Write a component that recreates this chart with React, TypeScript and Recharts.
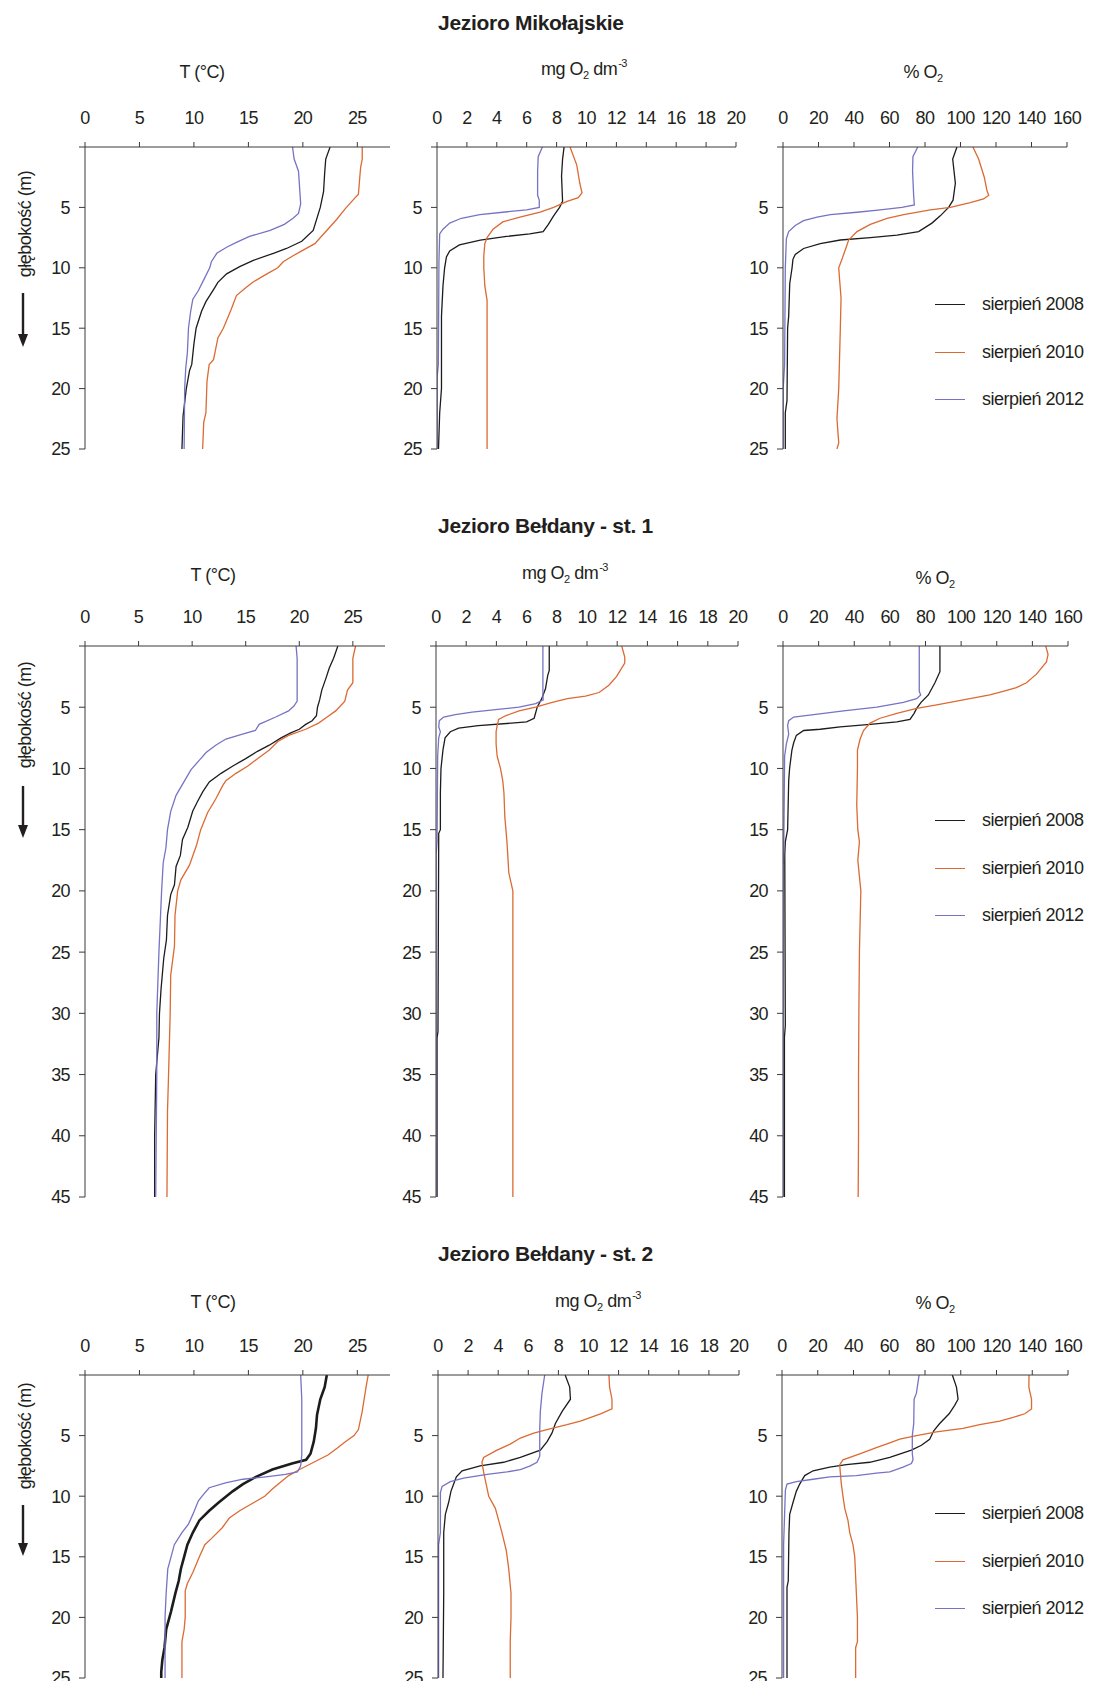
import React from "react";
import { LineChart, Line, XAxis, YAxis, Legend } from "recharts";

const FONT = "'Liberation Sans', Arial, Helvetica, sans-serif";
const INK = "#231f20";
const AXIS = "#3a3a3a";

const YEARS = ["sierpień 2008", "sierpień 2010", "sierpień 2012"];
const COLORS = ["#1c1c1c", "#dc6a33", "#7773c4"];

const T_TICKS = [0, 5, 10, 15, 20, 25];
const MG_TICKS = [0, 2, 4, 6, 8, 10, 12, 14, 16, 18, 20];
const PCT_TICKS = [0, 20, 40, 60, 80, 100, 120, 140, 160];
const DEPTH_25 = [0, 5, 10, 15, 20, 25];
const DEPTH_45 = [0, 5, 10, 15, 20, 25, 30, 35, 40, 45];

// [depth m, value]
// Jezioro Mikołajskie
const MIK_T_2008 = [[0,22.5],[1,22.1],[2.2,22.0],[3.7,21.9],[5,21.6],[6.9,20.95],[7.8,19.9],[8.4,18.5],[8.8,17.3],[9.4,15.4],[9.9,14.2],[10.5,13.0],[11.2,12.2],[11.8,11.8],[12.8,11.1],[13.6,10.7],[15,10.2],[16.3,10.0],[18,9.8],[18.5,9.6],[20,9.3],[22.3,9.0],[25,8.9]];
const MIK_T_2010 = [[0,25.45],[1,25.45],[1.7,25.3],[3.9,25.1],[4.4,24.6],[5.1,23.9],[6,23.1],[7.2,21.9],[8,21.1],[8.6,19.9],[9,19.1],[9.5,18.2],[10,17.7],[10.5,16.7],[11.2,15.4],[11.7,14.7],[12.3,13.9],[13.5,13.4],[15,12.7],[15.8,12.2],[17.6,11.8],[18,11.4],[19.4,11.2],[22,11.1],[22.8,10.9],[25,10.8]];
const MIK_T_2012 = [[0,19.05],[1,19.2],[2,19.6],[4.7,19.8],[5.5,19.6],[5.9,19.1],[6.4,18.3],[6.9,17.0],[7.4,15.1],[7.9,13.9],[8.3,13.0],[8.8,12.1],[9.5,11.6],[10,11.45],[11,10.9],[11.9,10.4],[12.6,9.9],[13.6,9.7],[15,9.5],[17,9.4],[18.3,9.25],[20,9.15],[25,9.1]];
const MIK_MG_2008 = [[0,8.5],[1,8.4],[2.4,8.33],[4.5,8.4],[5,8.2],[5.7,7.8],[6.4,7.45],[7,7.1],[7.2,6.2],[7.4,4.65],[7.7,2.9],[8.1,1.5],[8.6,0.85],[9.1,0.63],[10,0.51],[11.5,0.4],[14,0.3],[20,0.3],[22,0.18],[25,0.1]];
const MIK_MG_2010 = [[0,8.9],[1.5,9.35],[3,9.55],[3.8,9.7],[4.2,9.45],[4.5,8.7],[5,7.8],[5.4,6.9],[5.8,5.55],[6.2,4.4],[6.8,3.75],[7.5,3.35],[8,3.2],[9,3.13],[10,3.13],[11.5,3.2],[12.7,3.35],[14,3.35],[25,3.35]];
const MIK_MG_2012 = [[0,7.05],[0.8,6.77],[2,6.73],[4,6.73],[4.4,6.84],[5,6.84],[5.2,6.0],[5.4,4.4],[5.6,2.86],[5.9,1.63],[6.3,0.85],[6.8,0.4],[7.2,0.18],[9.5,0.13],[18,0.09],[19,0.01],[25,0.01]];
const MIK_PCT_2008 = [[0,98],[1,95.6],[3,97.1],[4.4,95.8],[5,93.3],[5.7,88.6],[6.3,83.9],[7,76.4],[7.3,64.2],[7.5,49.2],[7.7,32.3],[8,21],[8.4,11.6],[8.9,6.9],[9.3,5.6],[10,5.1],[11.3,3.8],[14,3.2],[15,2.6],[21,2.25],[22,1.3],[25,1.3]];
const MIK_PCT_2010 = [[0,107],[1,110.2],[2.5,113.4],[3.6,114.9],[4,115.9],[4.3,113],[4.6,105.5],[5,94.3],[5.2,83],[5.6,68],[5.9,58.6],[6.4,49.2],[7,41.7],[7.7,37],[8.5,35.1],[9.3,33.2],[10,31.4],[11,31.9],[12.5,32.7],[15,32.3],[20,31.4],[22.5,30.4],[24.5,31.4],[25,30.4]];
const MIK_PCT_2012 = [[0,75.9],[0.8,73.2],[2,73],[4,73.6],[4.8,74],[5,67],[5.2,54.8],[5.4,41.7],[5.6,26.7],[5.8,19.2],[6.1,11.6],[6.5,6.9],[7,3.2],[7.6,1.9],[10,1.3],[18,0.9],[20,0.1],[25,0.1]];

// Jezioro Bełdany - st. 1
const B1_T_2008 = [[0,23.6],[1,23.2],[1.8,22.8],[2.6,22.5],[3.6,22.1],[4.4,21.9],[5,21.7],[5.7,21.6],[6.1,21.2],[6.4,20.6],[6.8,20.0],[7.1,19.2],[7.5,18.3],[8.1,17.2],[8.6,16.1],[9.2,15.0],[9.8,13.8],[10.4,12.7],[11.1,11.6],[11.9,11.0],[12.7,10.5],[13.5,10.05],[14.8,9.6],[15.8,9.1],[17.1,8.9],[18,8.5],[19.5,8.35],[20.3,8.0],[22,7.7],[24,7.6],[25.5,7.35],[28,7.1],[30,6.95],[32,6.9],[35,6.6],[40,6.5],[45,6.5]];
const B1_T_2010 = [[0,25.25],[1,25.0],[3,25.0],[3.6,24.5],[4.5,24.25],[5.3,23.4],[5.8,22.6],[6.3,21.8],[6.8,20.6],[7.3,19.0],[7.8,18.0],[8.5,17.2],[9.2,16.1],[9.8,15.2],[10.4,14.1],[11,13.15],[11.4,12.85],[12.5,12.2],[13.6,11.45],[15,10.8],[16.3,10.4],[17.9,9.75],[19.1,8.95],[20,8.65],[22,8.4],[24.5,8.35],[26.9,8.0],[30,7.95],[35,7.8],[38,7.7],[45,7.65]];
const B1_T_2012 = [[0,19.7],[1,19.8],[4.5,19.8],[4.9,19.5],[5.3,19.0],[5.8,17.8],[6.4,16.25],[6.9,15.9],[7.2,14.7],[7.6,13.15],[8.1,12.2],[8.7,11.3],[9.3,10.7],[10.1,9.9],[11,9.3],[12.2,8.5],[13.5,8.0],[15,7.7],[16.5,7.55],[17.7,7.3],[20,7.15],[25,6.9],[30,6.7],[35,6.7],[45,6.6]];
const B1_MG_2008 = [[0,7.5],[2,7.5],[2.4,7.4],[3.5,7.25],[4.3,7.0],[5,6.7],[5.9,6.5],[6.2,6.0],[6.3,5.0],[6.5,2.8],[6.7,1.5],[7,0.95],[7.5,0.6],[8.5,0.46],[10,0.33],[12,0.29],[15,0.29],[15.3,0.18],[31.5,0.13],[32,0.07],[45,0.07]];
const B1_MG_2010 = [[0,12.3],[0.9,12.5],[1.4,12.5],[2.5,11.95],[3.2,11.45],[3.8,10.8],[4.1,9.9],[4.3,8.7],[4.6,7.7],[5,6.6],[5.3,5.5],[5.7,4.6],[6,4.15],[6.5,4.05],[7,3.98],[8,3.98],[9,4.05],[10,4.27],[11,4.42],[12,4.5],[14,4.56],[16,4.7],[18.5,4.82],[19.5,5.0],[20,5.09],[45,5.09]];
const B1_MG_2012 = [[0,7.08],[4.1,7.08],[4.4,7.1],[4.7,6.6],[5,5.5],[5.2,3.94],[5.4,2.39],[5.6,1.28],[5.8,0.51],[6.1,0.22],[6.6,0.18],[7,0.29],[7.5,0.18],[9,0.11],[16,0.07],[17,0.01],[45,0.01]];
const B1_PCT_2008 = [[0,88.1],[2.1,88.1],[3,85.3],[4,81.6],[4.6,77.5],[5.1,75],[5.5,73.6],[6,71.3],[6.2,63.9],[6.4,48.9],[6.6,32.1],[6.8,20.9],[6.9,11.6],[7.3,7.5],[7.9,6.0],[8.5,5.0],[10,3.7],[11,3.2],[15,2.6],[16,1.3],[17,1.0],[31,1.3],[32,0.8],[45,0.8]];
const B1_PCT_2010 = [[0,147.5],[0.7,148.8],[1.3,147.9],[2.3,142.3],[3,136.7],[3.4,131],[3.7,123.6],[4,116.1],[4.4,101.2],[4.8,86.3],[5.1,75],[5.5,63.9],[5.9,54.5],[6.3,48.9],[6.9,45.2],[7.6,43.3],[8.5,41.8],[10,41.8],[13,41.4],[15,42],[16,42.9],[17.5,42],[20,43.7],[25,42.9],[30,42.6],[35,42.4],[40,42.4],[45,42.2]];
const B1_PCT_2012 = [[0,76.5],[3.7,76.5],[4,77.3],[4.3,75],[4.6,67.6],[5,52.7],[5.3,34],[5.6,17.2],[5.8,6],[6.1,3.2],[6.5,2.6],[7.2,3.2],[8,1.9],[9,0.9],[17,0.4],[18,0.1],[45,0.1]];

// Jezioro Bełdany - st. 2
const B2_T_2008 = [[0,22.2],[1,22.0],[2,21.6],[3.3,21.3],[4.4,21.2],[5.5,21.0],[6.5,20.7],[7,20.3],[7.3,19.0],[7.8,17.2],[8.4,15.7],[9,14.5],[9.6,13.55],[10.5,12.3],[11.2,11.4],[12,10.5],[13,9.9],[14,9.4],[15,9.1],[16,8.8],[17,8.6],[18,8.3],[19.5,7.9],[21,7.45],[22.5,7.3],[23.5,7.1],[24.5,7.0],[25,7.0]];
const B2_T_2010 = [[0,26.0],[1,25.8],[3,25.45],[4.5,25.1],[5,24.7],[5.5,23.9],[6,23.2],[6.6,22.3],[7.2,21.0],[7.8,19.7],[8.3,18.7],[8.8,18.0],[9.4,17.2],[10,16.5],[10.5,15.55],[11.2,14.2],[11.8,13.25],[12.6,12.6],[13.5,11.6],[14,11.0],[15,10.5],[16.3,9.9],[17.2,9.4],[17.8,9.2],[20,9.2],[21,9.1],[22,8.9],[25,8.9]];
const B2_T_2012 = [[0,19.8],[2,19.9],[6.6,19.9],[7.5,19.8],[8,19.5],[8.2,18.4],[8.4,16.6],[8.6,14.5],[8.9,12.9],[9.3,11.4],[10,10.75],[10.4,10.4],[11.5,9.9],[12.3,9.5],[13,8.9],[14,8.2],[15,7.9],[16,7.6],[18,7.45],[20,7.35],[25,7.35]];
const B2_MG_2008 = [[0,8.45],[1,8.75],[2,8.8],[3,8.25],[4,7.8],[4.8,7.57],[5.5,7.25],[6.2,6.8],[6.8,5.47],[7.2,4.36],[7.5,2.8],[7.9,1.6],[8.4,1.22],[9,1.04],[9.6,0.86],[10.5,0.71],[11.5,0.49],[13,0.38],[18,0.38],[25,0.33]];
const B2_MG_2010 = [[0,11.36],[1,11.4],[2,11.56],[2.8,11.56],[3.2,10.8],[3.8,9.46],[4.1,8.57],[4.5,7.24],[4.8,6.36],[5.2,5.47],[5.7,4.8],[6.2,3.92],[6.8,3.03],[7.2,2.92],[8,3.03],[9,3.2],[10,3.37],[11,3.81],[12,4.03],[13,4.25],[14.5,4.54],[16,4.7],[18,4.85],[20,4.85],[22,4.8],[25,4.8]];
const B2_MG_2012 = [[0,7.09],[1.5,6.91],[3,6.8],[4.5,6.76],[6.7,6.76],[7.2,6.58],[7.5,6.13],[7.8,5.47],[8,4.58],[8.2,3.26],[8.5,1.7],[8.8,0.82],[9.2,0.27],[9.7,0.16],[13,0.16],[14,0.04],[25,0.04]];
const B2_PCT_2008 = [[0,95.3],[1,97.6],[2,98.5],[2.5,96.6],[3.2,93.5],[4,88.2],[4.6,84.9],[5.3,82.6],[5.8,78],[6.2,72.4],[6.8,60.3],[7.2,49.1],[7.4,36],[7.6,26.7],[7.9,17.4],[8.3,12.7],[9,9.9],[9.6,8],[10.5,6.2],[11.5,4.3],[13,3.9],[17,3.5],[17.5,2.8],[25,2.8]];
const B2_PCT_2010 = [[0,138.2],[1,138.1],[2,139.6],[2.8,139.6],[3.2,135.8],[3.5,129.3],[3.8,121.8],[4.1,110.6],[4.4,101.3],[4.7,86.4],[5,75.2],[5.3,65.9],[5.6,60.3],[6,52.8],[6.5,43.5],[7,34.1],[7.4,32.3],[8,32.6],[9,33.2],[10,34.1],[11,35.1],[12,36.9],[13,37.9],[14,39.7],[15,40.7],[18,41.6],[20,42.2],[22,42.2],[22.5,41.2],[25,41.2]];
const B2_PCT_2012 = [[0,76.7],[1.5,75.2],[2,73.9],[4,73.7],[5,72.9],[6.5,72.9],[7,73.3],[7.3,72.4],[7.6,67.7],[8,60.3],[8.1,52.8],[8.3,41.6],[8.4,26.7],[8.6,17.4],[8.8,8],[9,2.8],[9.5,1.9],[14,0.9],[25,0.9]];

const toPts = (arr: number[][]) => arr.map(([d, v]) => ({ d, v }));

const PAD_L = 70;
const PAD_T = 45;
const PAGE_W = 1093;

type PanelProps = {
  left: number;
  top: number;
  plotW: number;
  plotH: number;
  xMax: number;
  xTicks: number[];
  yMax: number;
  yTicks: number[];
  series: number[][][];
  widths?: number[];
  legendTop?: number;
};

const tickStyle = { fill: INK, fontSize: 18, fontFamily: FONT, letterSpacing: -0.6 };

const LegendBox = () => (
  <div style={{ fontFamily: FONT }}>
    {YEARS.map((y, i) => (
      <div key={y} style={{ height: 47.5, display: "flex", alignItems: "center" }}>
        <span style={{ display: "inline-block", width: 30, borderTop: `1.4px solid ${COLORS[i]}` }} />
        <span style={{ marginLeft: 17, fontSize: 18, letterSpacing: -0.5, color: INK }}>{y}</span>
      </div>
    ))}
  </div>
);

function Panel(p: PanelProps) {
  const hasLegend = p.legendTop !== undefined;
  const right = hasLegend ? PAGE_W - (p.left + p.plotW) : 12;
  const W = PAD_L + p.plotW + right;
  const H = PAD_T + p.plotH + 14;
  const chartLeft = p.left - PAD_L;
  const chartTop = p.top - PAD_T;
  return (
    <div style={{ position: "absolute", left: chartLeft, top: chartTop }}>
      <LineChart
        layout="vertical"
        width={W}
        height={H}
        margin={{ top: 5, right, bottom: 14, left: 20 }}
      >
        <XAxis
          type="number"
          orientation="top"
          dataKey="v"
          domain={[0, p.xMax]}
          ticks={p.xTicks}
          interval={0}
          allowDataOverflow
          height={40}
          tickSize={5}
          tickMargin={18}
          axisLine={{ stroke: AXIS }}
          tickLine={{ stroke: AXIS }}
          tick={tickStyle}
        />
        <YAxis
          type="number"
          dataKey="d"
          domain={[0, p.yMax]}
          ticks={p.yTicks}
          interval={0}
          allowDataOverflow
          width={50}
          tickSize={6}
          tickMargin={9}
          axisLine={{ stroke: AXIS }}
          tickLine={{ stroke: AXIS }}
          tick={tickStyle}
          tickFormatter={(t: number) => (t === 0 ? "" : String(t))}
        />
        {p.series.map((s, i) => (
          <Line
            key={YEARS[i]}
            data={toPts(s)}
            dataKey="v"
            name={YEARS[i]}
            type="linear"
            stroke={COLORS[i]}
            strokeWidth={p.widths ? p.widths[i] : 1.3}
            dot={false}
            activeDot={false}
            isAnimationActive={false}
          />
        ))}
        {hasLegend && (
          <Legend
            layout="vertical"
            align="center"
            verticalAlign="middle"
            wrapperStyle={{ left: 935 - chartLeft, top: (p.legendTop as number) - chartTop, width: 160, height: "auto" }}
            content={() => <LegendBox />}
          />
        )}
      </LineChart>
    </div>
  );
}

const sub = { fontSize: 11, position: "relative" as const, top: 4, verticalAlign: "baseline" };
const sup = { fontSize: 11, position: "relative" as const, top: -8, verticalAlign: "baseline", marginLeft: 1 };

const Label = ({ x, y, children, bold, size }: { x: number; y: number; children: React.ReactNode; bold?: boolean; size?: number }) => (
  <div
    style={{
      position: "absolute",
      left: x,
      top: y,
      transform: "translate(-50%, -50%)",
      whiteSpace: "nowrap",
      lineHeight: 1,
      fontSize: size || 18,
      fontWeight: bold ? 700 : 400,
      letterSpacing: bold ? -0.3 : -0.5,
      color: INK,
      fontFamily: FONT,
    }}
  >
    {children}
  </div>
);

const RowTitle = ({ y, text }: { y: number; text: string }) => (
  <div
    style={{
      position: "absolute",
      left: 438,
      top: y,
      transform: "translateY(-50%)",
      whiteSpace: "nowrap",
      lineHeight: 1,
      fontSize: 21,
      fontWeight: 700,
      letterSpacing: -0.3,
      color: INK,
      fontFamily: FONT,
    }}
  >
    {text}
  </div>
);

const DepthLabel = ({ cy, a1, a2 }: { cy: number; a1: number; a2: number }) => (
  <>
    <div
      style={{
        position: "absolute",
        left: 25,
        top: cy,
        transform: "translate(-50%, -50%) rotate(-90deg)",
        whiteSpace: "nowrap",
        lineHeight: 1,
        fontSize: 18,
        letterSpacing: -0.5,
        color: INK,
        fontFamily: FONT,
      }}
    >
      głębokość (m)
    </div>
    <svg style={{ position: "absolute", left: 13, top: a1 }} width={20} height={a2 - a1}>
      <line x1={10} y1={0} x2={10} y2={a2 - a1 - 12} stroke={INK} strokeWidth={2.4} />
      <polygon points={`5,${a2 - a1 - 13} 15,${a2 - a1 - 13} 10,${a2 - a1}`} fill={INK} />
    </svg>
  </>
);

const MgTitle = () => (
  <>
    mg O<span style={sub}>2</span> dm<span style={sup}>-3</span>
  </>
);
const PctTitle = () => (
  <>
    % O<span style={sub}>2</span>
  </>
);

export default function App() {
  return (
    <div style={{ position: "relative", width: PAGE_W, height: 1689, margin: -8, background: "#fff", fontFamily: FONT }}>
      {/* Row 1 */}
      <RowTitle y={21.5} text="Jezioro Mikołajskie" />
      <Label x={202} y={72}>T (°C)</Label>
      <Label x={584} y={69}><MgTitle /></Label>
      <Label x={923} y={72}><PctTitle /></Label>
      <DepthLabel cy={224} a1={293} a2={347} />
      <Panel left={85} top={147} plotW={305} plotH={302} xMax={28} xTicks={T_TICKS} yMax={25} yTicks={DEPTH_25}
        series={[MIK_T_2008, MIK_T_2010, MIK_T_2012]} />
      <Panel left={437} top={147} plotW={299} plotH={302} xMax={20} xTicks={MG_TICKS} yMax={25} yTicks={DEPTH_25}
        series={[MIK_MG_2008, MIK_MG_2010, MIK_MG_2012]} />
      <Panel left={783} top={147} plotW={284} plotH={302} xMax={160} xTicks={PCT_TICKS} yMax={25} yTicks={DEPTH_25}
        series={[MIK_PCT_2008, MIK_PCT_2010, MIK_PCT_2012]} legendTop={281} />

      {/* Row 2 */}
      <RowTitle y={524.5} text="Jezioro Bełdany - st. 1" />
      <Label x={213} y={575}>T (°C)</Label>
      <Label x={565} y={573}><MgTitle /></Label>
      <Label x={935} y={578}><PctTitle /></Label>
      <DepthLabel cy={714.5} a1={786} a2={838} />
      <Panel left={85} top={646} plotW={300} plotH={551} xMax={28} xTicks={T_TICKS} yMax={45} yTicks={DEPTH_45}
        series={[B1_T_2008, B1_T_2010, B1_T_2012]} />
      <Panel left={436} top={646} plotW={302} plotH={551} xMax={20} xTicks={MG_TICKS} yMax={45} yTicks={DEPTH_45}
        series={[B1_MG_2008, B1_MG_2010, B1_MG_2012]} />
      <Panel left={783} top={646} plotW={285} plotH={551} xMax={160} xTicks={PCT_TICKS} yMax={45} yTicks={DEPTH_45}
        series={[B1_PCT_2008, B1_PCT_2010, B1_PCT_2012]} legendTop={797} />

      {/* Row 3 */}
      <RowTitle y={1252.5} text="Jezioro Bełdany - st. 2" />
      <Label x={213} y={1302}>T (°C)</Label>
      <Label x={598} y={1301}><MgTitle /></Label>
      <Label x={935} y={1303}><PctTitle /></Label>
      <DepthLabel cy={1435.5} a1={1505} a2={1556} />
      <Panel left={85} top={1375} plotW={305} plotH={303} xMax={28} xTicks={T_TICKS} yMax={25} yTicks={DEPTH_25}
        series={[B2_T_2008, B2_T_2010, B2_T_2012]} widths={[2.6, 1.3, 1.3]} />
      <Panel left={438} top={1375} plotW={301} plotH={303} xMax={20} xTicks={MG_TICKS} yMax={25} yTicks={DEPTH_25}
        series={[B2_MG_2008, B2_MG_2010, B2_MG_2012]} />
      <Panel left={782} top={1375} plotW={286} plotH={303} xMax={160} xTicks={PCT_TICKS} yMax={25} yTicks={DEPTH_25}
        series={[B2_PCT_2008, B2_PCT_2010, B2_PCT_2012]} legendTop={1490} />
    </div>
  );
}
